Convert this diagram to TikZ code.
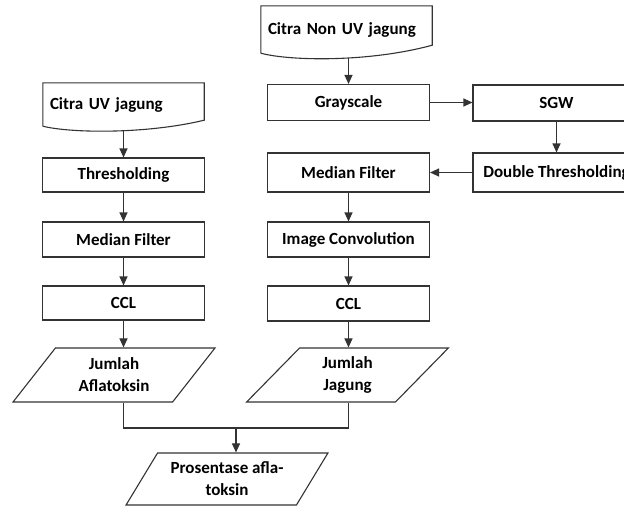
\documentclass[tikz,border=0pt]{standalone}
\usepackage{fontspec}
\setmainfont{Carlito}
\usetikzlibrary{arrows.meta, shapes.geometric, calc}

\tikzset{
	flowline/.style = {draw = black!80, line width = 1.1pt},
	arrow/.style = {flowline, -{Triangle[length=9pt, width=8pt]}},
	box/.style = {flowline, rectangle, minimum width = 162pt, minimum height = 36pt, inner sep = 0pt},
	docbox/.style = {rectangle, inner xsep = 7pt, inner ysep = 0pt, align = left},
	iobox/.style = {flowline, trapezium, trapezium left angle = 53, trapezium right angle = 127, trapezium stretches = true, minimum width = 202pt, minimum height = 54pt, inner sep = 0pt, align = center}
}

\begin{document}
\begin{tikzpicture}[x = 1pt, y = -1pt, font = \fontsize{17}{22}\selectfont\bfseries]
\useasboundingbox (0, 0) rectangle (624, 506);

	% Non UV branch
	\node [docbox, text width = 157pt, minimum height = 47pt] (nonuv) at (346.5, 29.5) {Citra Non UV jagung};
	\draw [flowline] (nonuv.south west) -- (nonuv.north west) -- (nonuv.north east) -- ($(nonuv.south east) + (0, -8)$) .. controls +(-62, 17) and +(30, 8) .. (nonuv.south west);

	\node [box] (gray) at (348.5, 102.5) {Grayscale};
	\node [box, minimum width = 167pt] (sgw) at (556.5, 103) {SGW};
	\node [box, minimum width = 167pt, minimum height = 39pt] (dthr) at (556.5, 172.5) {Double Thresholding};
	\node [box, minimum height = 39pt] (medR) at (348.5, 172.5) {Median Filter};
	\node [box, minimum height = 35pt] (conv) at (348.5, 239.5) {Image Convolution};
	\node [box, minimum height = 35pt] (cclR) at (348.5, 303.5) {CCL};
	\node [iobox] (jag) at (347.5, 375) {Jumlah\\Jagung};

	\draw [arrow] ($(nonuv.south -| gray.north) + (0, 4.5)$) -- (gray.north);
	\draw [arrow] (gray.east) -- (gray.east -| sgw.west);
	\draw [arrow] (sgw.south) -- (dthr.north);
	\draw [arrow] (dthr.west) -- (medR.east);
	\draw [arrow] (medR.south) -- (conv.north);
	\draw [arrow] (conv.south) -- (cclR.north);
	\draw [arrow] (cclR.south) -- (cclR.south |- jag.north);

	% UV branch
	\node [docbox, text width = 147pt, minimum height = 43pt] (uv) at (123.5, 104.5) {Citra UV jagung};
	\draw [flowline] (uv.south west) -- (uv.north west) -- (uv.north east) -- ($(uv.south east) + (0, -6)$) .. controls +(-58, 14) and +(28, 7) .. (uv.south west);

	\node [box, minimum height = 34pt] (thr) at (123.5, 175) {Thresholding};
	\node [box, minimum height = 35pt] (medL) at (123.5, 239.5) {Median Filter};
	\node [box, minimum height = 34pt] (cclL) at (123.5, 303) {CCL};
	\node [iobox] (afl) at (114, 375) {Jumlah\\Aflatoksin};

	\draw [arrow] ($(uv.south) + (0, 4.5)$) -- (thr.north);
	\draw [arrow] (thr.south) -- (medL.north);
	\draw [arrow] (medL.south) -- (cclL.north);
	\draw [arrow] (cclL.south) -- (cclL.south |- afl.north);

	% result
	\node [iobox, minimum height = 52pt] (pros) at (227, 479) {Prosentase afla-\\toksin};
	\coordinate (join) at (236, 428);

	\draw [flowline] (cclL.south |- afl.south) |- (join) -| (cclR.south |- jag.south);
	\draw [arrow] (join) -- (join |- pros.north);

\end{tikzpicture}
\end{document}
